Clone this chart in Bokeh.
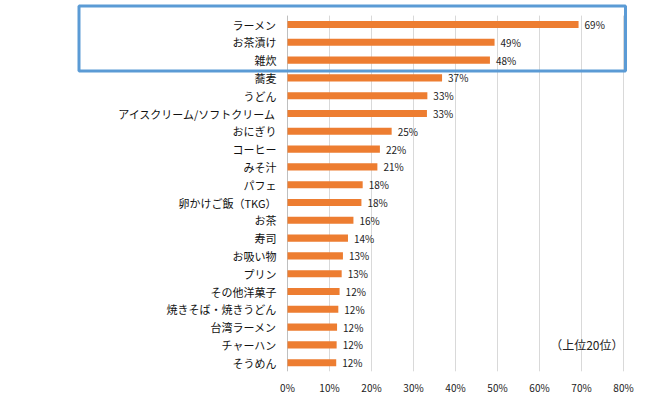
from bokeh.plotting import figure
from bokeh.models import Range1d, PrintfTickFormatter, FixedTicker, BoxAnnotation, ColumnDataSource
from bokeh.core.properties import value
from bokeh.embed import file_html
from bokeh.resources import INLINE

categories = ["ラーメン", "お茶漬け", "雑炊", "蕎麦", "うどん", "アイスクリーム/ソフトクリーム",
              "おにぎり", "コーヒー", "みそ汁", "パフェ", "卵かけご飯（TKG）", "お茶", "寿司",
              "お吸い物", "プリン", "その他洋菓子", "焼きそば・焼きうどん", "台湾ラーメン",
              "チャーハン", "そうめん"]
values = [69.3, 49.3, 48.2, 36.8, 33.3, 33.2, 24.8, 22.0, 21.4, 17.9, 17.6, 15.7, 14.4,
          13.2, 12.9, 12.4, 12.1, 11.8, 11.7, 11.6]
value_labels = ["69%", "49%", "48%", "37%", "33%", "33%", "25%", "22%", "21%", "18%", "18%",
                "16%", "14%", "13%", "13%", "12%", "12%", "12%", "12%", "12%"]
x_ticks = [0, 10, 20, 30, 40, 50, 60, 70, 80]
note = "（上位20位）"

FONT = "Noto Sans CJK JP"
W, H = 650, 397
FRAME_BOTTOM = 371          # px from top
X0_PX, X80_PX = 287, 623    # pixel positions of 0% and 80%
ROW0_PX, ROW_STEP = 24, 17.8

ppu = (X80_PX - X0_PX) / 80.0
x_start = -X0_PX / ppu
x_end = 80 + (W - X80_PX) / ppu
y_top = -ROW0_PX / ROW_STEP
y_bottom = (FRAME_BOTTOM - ROW0_PX) / ROW_STEP

rows = list(range(len(categories)))  # row index, top to bottom
src = ColumnDataSource(dict(row=rows, cat=categories, val=values, lab=value_labels))

p = figure(width=W, height=H, output_backend="svg", toolbar_location=None,
           x_range=Range1d(x_start, x_end), y_range=Range1d(y_bottom, y_top),
           min_border_left=0, min_border_right=0, min_border_top=0,
           min_border_bottom=H - FRAME_BOTTOM)
p.outline_line_color = None
p.yaxis.visible = False
p.ygrid.grid_line_color = None
p.xgrid.grid_line_color = None

n = len(categories)
# vertical gridlines and the category axis line
p.segment(x0=x_ticks[1:], x1=x_ticks[1:], y0=[-0.5] * (len(x_ticks) - 1),
          y1=[n - 0.5] * (len(x_ticks) - 1), line_color="#d9d9d9", line_width=1)
p.segment(x0=[0], x1=[0], y0=[-0.5], y1=[n - 0.5], line_color="#bfbfbf", line_width=1)

p.hbar(y="row", right="val", height=0.4, source=src, color="#ED7D31", line_color=None)
p.text(x="val", y="row", text="lab", source=src, x_offset=6, text_baseline="middle",
       text_align="left", text_font=value(FONT), text_font_size="10px", text_color="#222222")
p.text(x=0, y="row", text="cat", source=src, x_offset=-11, text_baseline="middle",
       text_align="right", text_font=value(FONT), text_font_size="11px", text_color="#111111")

p.text(x=[80], y=[categories.index("チャーハン")], text=[note], text_align="right",
       text_baseline="middle", text_font=value(FONT), text_font_size="12px", text_color="#222222")

p.xaxis.ticker = FixedTicker(ticks=x_ticks)
p.xaxis.formatter = PrintfTickFormatter(format="%d%%")
p.xaxis.axis_line_color = None
p.xaxis.major_tick_line_color = None
p.xaxis.minor_tick_line_color = None
p.xaxis.major_label_standoff = 2
p.xaxis.major_label_text_font = FONT
p.xaxis.major_label_text_font_size = "10px"
p.xaxis.major_label_text_color = "#222222"

box = BoxAnnotation(left=78.5, right=625, top=5.5, bottom=70.5,
                    left_units="canvas", right_units="canvas", top_units="canvas", bottom_units="canvas",
                    fill_color=None, fill_alpha=0, line_color="#5b9bd5", line_alpha=1.0, line_width=3)
p.add_layout(box)

open("out.html", "w").write(file_html(p, INLINE))
